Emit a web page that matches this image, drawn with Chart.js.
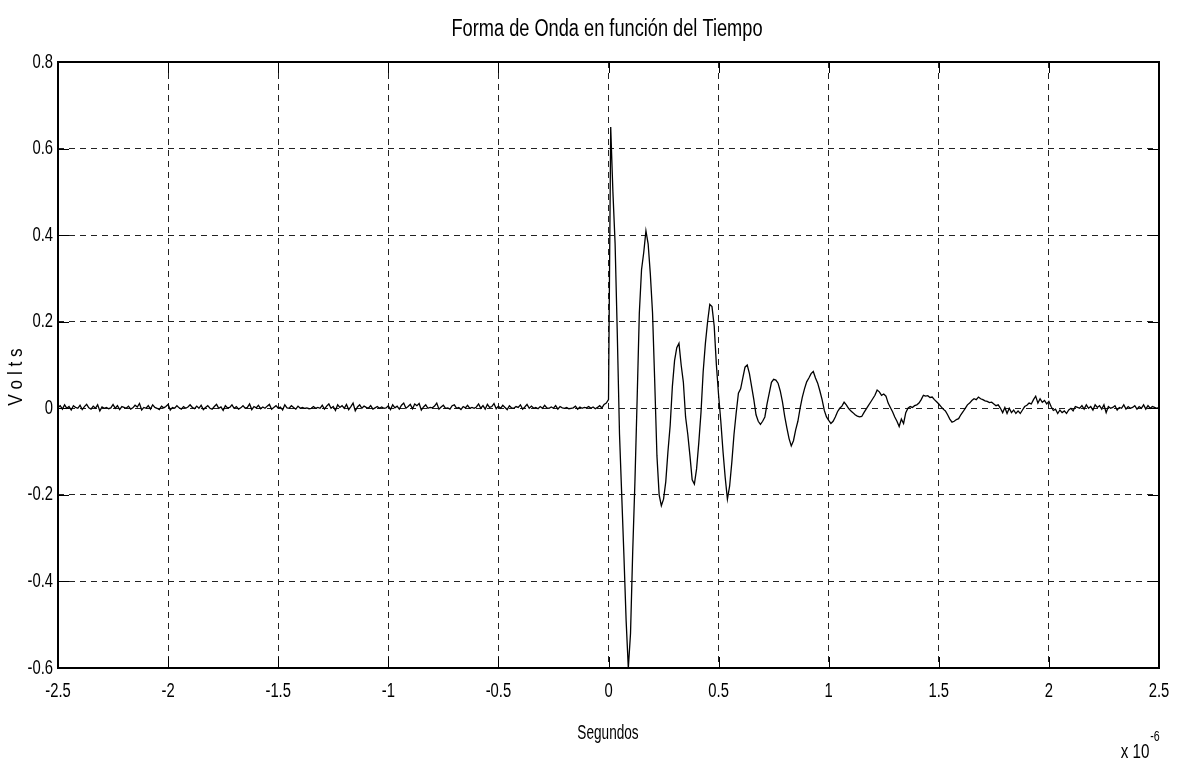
<!DOCTYPE html>
<html>
<head>
<meta charset="utf-8">
<script src="https://cdn.jsdelivr.net/npm/chart.js@4/dist/chart.umd.min.js"></script>
<style>
  html, body { margin: 0; padding: 0; background: #fff; }
  canvas { display: block; }
</style>
</head>
<body>
<canvas id="onda" width="1179" height="764"></canvas>
<script>
// tiempo en microsegundos (eje mostrado "x 10^-6")
const tInicio = -2.5;
const paso = 0.01;
const xTicks = [-2.5, -2, -1.5, -1, -0.5, 0, 0.5, 1, 1.5, 2, 2.5];
const yTicks = [-0.6, -0.4, -0.2, 0, 0.2, 0.4, 0.6, 0.8];

// ruido antes del disparo, de -2.50 a -0.01 us
const ruidoPrevio = [
  0.002, 0.006, -0.002, 0.008, 0.0, 0.004, -0.004, 0.006, 0.002, 0.0,
  0.007, -0.003, 0.004, 0.009, 0.001, -0.002, 0.005, 0.0, 0.008, -0.006,
  0.003, 0.0, 0.002, -0.001, 0.001, 0.009, 0.0, 0.006, -0.003, 0.004,
  0.002, 0.0, 0.005, -0.002, 0.001, 0.007, 0.003, 0.011, -0.004, 0.002,
  0.0, 0.006, -0.002, 0.008, 0.002, 0.0, -0.003, 0.005, 0.001, 0.004,
  0.009, -0.004, 0.002, 0.0, 0.006, 0.001, -0.002, 0.004, 0.0, 0.003,
  0.008, 0.002, -0.001, 0.005, 0.0, 0.007, -0.003, 0.002, 0.006, 0.0,
  -0.002, 0.004, 0.009, 0.0, 0.003, -0.005, 0.006, 0.001, 0.002, 0.008,
  0.0, 0.004, -0.002, 0.001, 0.006, 0.0, 0.002, 0.010, -0.003, 0.004,
  0.001, 0.007, -0.001, 0.003, 0.0, 0.005, 0.009, -0.002, 0.002, 0.006,
  0.0, 0.003, -0.004, 0.008, 0.001, 0.0, 0.006, 0.002, -0.002, 0.005,
  0.0, 0.002, 0.0, 0.001, -0.001, 0.0, 0.004, 0.0, 0.002, 0.0,
  0.007, -0.002, 0.005, 0.010, 0.0, 0.004, -0.005, 0.008, 0.002, 0.006,
  0.0, 0.009, -0.003, 0.004, 0.012, -0.006, 0.003, 0.008, 0.0, 0.005,
  0.002, 0.0, 0.006, -0.002, 0.001, 0.004, 0.0, 0.003, 0.0, 0.001,
  0.006, -0.003, 0.008, 0.001, 0.005, -0.002, 0.007, 0.012, 0.0, 0.004,
  0.009, -0.001, 0.010, 0.006, 0.011, -0.004, 0.003, 0.008, 0.0, 0.002,
  0.001, 0.005, 0.012, -0.002, 0.003, 0.007, 0.0, 0.001, -0.002, 0.006,
  0.008, 0.0, 0.002, -0.003, 0.004, 0.001, 0.007, 0.0, 0.002, 0.0,
  0.003, 0.010, 0.0, 0.006, -0.002, 0.009, 0.002, 0.004, 0.011, -0.001,
  0.005, 0.0, 0.007, 0.002, -0.003, 0.006, 0.001, 0.0, 0.004, 0.002,
  0.008, -0.002, 0.003, 0.009, 0.0, 0.005, 0.0, 0.002, -0.001, 0.004,
  0.0, 0.007, 0.001, 0.0, 0.003, 0.0, 0.006, -0.002, 0.004, 0.001,
  0.0, 0.002, -0.001, 0.0, 0.001, 0.005, -0.002, 0.003, 0.0, 0.002,
  0.001, 0.004, 0.0, 0.003, -0.001, 0.002, 0.006, 0.001, 0.009, 0.012
];

// respuesta desde el disparo, de 0.00 a 2.50 us
const respuesta = [
  0.02, 0.65, 0.50, 0.38, 0.17, -0.06, -0.20, -0.34, -0.49, -0.60,
  -0.52, -0.33, -0.17, 0.02, 0.22, 0.32, 0.36, 0.41, 0.38, 0.31,
  0.22, 0.06, -0.11, -0.20, -0.225, -0.21, -0.17, -0.10, -0.04, 0.05,
  0.11, 0.14, 0.15, 0.10, 0.06, -0.02, -0.06, -0.11, -0.165, -0.175,
  -0.14, -0.08, -0.01, 0.085, 0.15, 0.20, 0.24, 0.235, 0.19, 0.10,
  0.03, -0.03, -0.10, -0.16, -0.21, -0.18, -0.125, -0.06, -0.01, 0.035,
  0.045, 0.07, 0.095, 0.10, 0.08, 0.05, 0.02, -0.015, -0.03, -0.037,
  -0.03, -0.02, 0.01, 0.035, 0.06, 0.067, 0.065, 0.058, 0.04, 0.015,
  -0.018, -0.045, -0.07, -0.087, -0.075, -0.05, -0.03, 0.0, 0.025, 0.045,
  0.061, 0.07, 0.08, 0.085, 0.07, 0.058, 0.04, 0.02, -0.005, -0.02,
  -0.028, -0.035, -0.03, -0.02, -0.008, 0.0, 0.005, 0.014, 0.008, 0.0,
  -0.006, -0.01, -0.015, -0.018, -0.02, -0.019, -0.01, -0.002, 0.006, 0.014,
  0.022, 0.03, 0.042, 0.038, 0.03, 0.033, 0.028, 0.012, 0.002, -0.008,
  -0.02, -0.03, -0.042, -0.025, -0.035, -0.01, 0.0, 0.004, 0.002, 0.006,
  0.008, 0.012, 0.02, 0.03, 0.028, 0.029, 0.025, 0.026, 0.02, 0.015,
  0.01, 0.004, -0.002, -0.006, -0.015, -0.025, -0.032, -0.03, -0.026, -0.024,
  -0.015, -0.008, 0.0, 0.008, 0.012, 0.018, 0.022, 0.02, 0.026, 0.022,
  0.02, 0.017, 0.016, 0.013, 0.014, 0.01, 0.006, 0.008, 0.0, -0.01,
  0.002, -0.012, 0.0, -0.01, -0.004, -0.012, -0.006, -0.012, -0.004, 0.004,
  0.007, 0.012, 0.01, 0.02, 0.028, 0.012, 0.022, 0.014, 0.018, 0.01,
  0.016, 0.004, -0.005, -0.002, -0.012, -0.004, -0.01, -0.006, -0.012, -0.004,
  0.0, -0.006, 0.004, 0.002, 0.0, 0.006, -0.002, 0.008, 0.0, 0.004,
  -0.004, 0.008, 0.002, 0.006, -0.002, 0.008, -0.01, 0.004, 0.0, 0.002,
  0.006, -0.004, 0.002, 0.0, 0.008, -0.002, 0.004, 0.0, 0.002, 0.006,
  -0.002, 0.004, 0.0, 0.008, -0.002, 0.006, 0.0, 0.004, 0.002, 0.0,
  0.002
];

const voltios = ruidoPrevio.concat(respuesta);
const puntos = voltios.map((v, i) => ({ x: +(tInicio + i * paso).toFixed(2), y: v }));

const FUENTE = "'Liberation Sans', Arial, sans-serif";

// texto estrecho (la fuente original es condensada)
function texto(ctx, s, x, y, size, sx, align) {
  ctx.save();
  ctx.font = size + 'px ' + FUENTE;
  ctx.textAlign = align || 'center';
  ctx.textBaseline = 'middle';
  ctx.translate(x, y);
  ctx.scale(sx, 1);
  ctx.fillText(s, 0, 0);
  ctx.restore();
}

// caja, marcas interiores, etiquetas y textos
const marco = {
  id: 'marco',
  afterDraw(chart) {
    const { ctx, chartArea: a, scales } = chart;
    ctx.save();
    ctx.strokeStyle = '#000';
    ctx.fillStyle = '#000';
    ctx.lineWidth = 1;
    ctx.beginPath();
    xTicks.forEach(t => {
      const px = Math.round(scales.x.getPixelForValue(t)) + 0.5;
      ctx.moveTo(px, a.top); ctx.lineTo(px, a.top + 11);
      ctx.moveTo(px, a.bottom); ctx.lineTo(px, a.bottom - 11);
    });
    yTicks.forEach(t => {
      const py = Math.round(scales.y.getPixelForValue(t)) + 0.5;
      ctx.moveTo(a.left, py); ctx.lineTo(a.left + 11, py);
      ctx.moveTo(a.right, py); ctx.lineTo(a.right - 11, py);
    });
    ctx.stroke();
    ctx.lineWidth = 2;
    ctx.strokeRect(a.left, a.top, a.right - a.left, a.bottom - a.top);

    xTicks.forEach(t => {
      texto(ctx, String(t), scales.x.getPixelForValue(t), a.bottom + 23, 20, 0.74);
    });
    yTicks.forEach(t => {
      texto(ctx, String(t), a.left - 5, scales.y.getPixelForValue(t), 20, 0.74, 'right');
    });

    ctx.font = '23px ' + FUENTE;
    const wTitulo = ctx.measureText('Forma de Onda en función del Tiempo').width;
    texto(ctx, 'Forma de Onda en función del Tiempo', 607, 30, 23, 311 / wTitulo);
    texto(ctx, 'Segundos', 608, 733, 20, 0.68);
    texto(ctx, 'x 10', 1135, 752, 20, 0.76);
    texto(ctx, '-6', 1155, 737, 14, 0.76);

    ctx.translate(16, 377);
    ctx.rotate(-Math.PI / 2);
    texto(ctx, 'V o l t s', 0, 0, 20, 0.86);
    ctx.restore();
  }
};

new Chart(document.getElementById('onda'), {
  type: 'line',
  data: {
    datasets: [{
      data: puntos,
      borderColor: '#000',
      borderWidth: 1.3,
      pointRadius: 0,
      tension: 0,
      fill: false
    }]
  },
  options: {
    responsive: false,
    animation: false,
    events: [],
    layout: { padding: { top: 62, right: 20, left: 0, bottom: 0 } },
    plugins: { legend: { display: false }, title: { display: false }, tooltip: { enabled: false } },
    scales: {
      x: {
        type: 'linear',
        min: -2.5,
        max: 2.5,
        afterFit: s => { s.height = 96; },
        afterBuildTicks: s => { s.ticks = xTicks.map(v => ({ value: v })); },
        grid: { color: '#222', lineWidth: 1, drawTicks: false },
        border: { display: false, dash: [6, 5] },
        ticks: { display: false }
      },
      y: {
        min: -0.6,
        max: 0.8,
        afterFit: s => { s.width = 58; },
        afterBuildTicks: s => { s.ticks = yTicks.map(v => ({ value: v })); },
        grid: { color: '#222', lineWidth: 1, drawTicks: false },
        border: { display: false, dash: [6, 5] },
        ticks: { display: false }
      }
    }
  },
  plugins: [marco]
});
</script>
</body>
</html>
